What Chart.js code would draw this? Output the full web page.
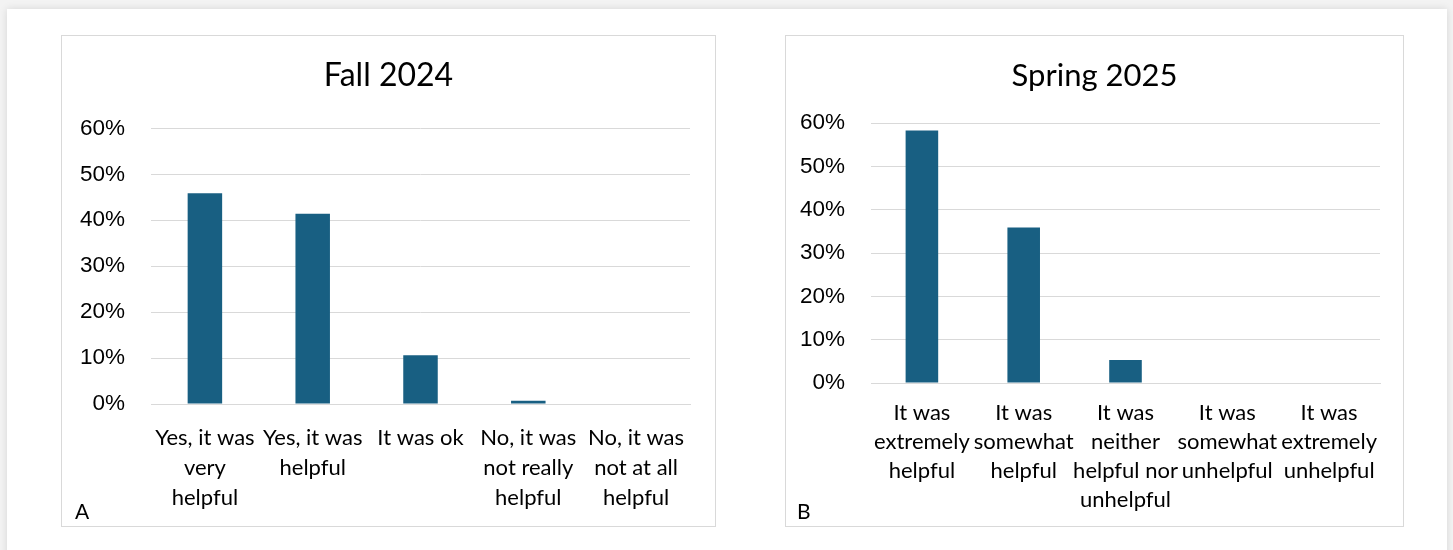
<!DOCTYPE html>
<html>
<head>
<meta charset="utf-8">
<script src="https://cdn.jsdelivr.net/npm/chart.js@4.4.1/dist/chart.umd.min.js"></script>
<style>
  html,body{margin:0;padding:0;}
  body{width:1453px;height:550px;background:#f3f3f3;position:relative;overflow:hidden;}
  #card{position:absolute;left:7px;top:9px;width:1440px;height:560px;background:#fff;box-shadow:0 0 8px rgba(0,0,0,0.12);}
  .panel{position:absolute;border:1px solid #d9d9d9;box-sizing:border-box;background:#fff;}
  .panel canvas{position:absolute;left:0;top:0;}
  .letter{position:absolute;font-family:"Lato","Liberation Sans",sans-serif;font-size:21px;color:#000;}
</style>
</head>
<body>
<div id="card"></div>
<div class="panel" id="pA" style="left:61px;top:35px;width:655px;height:492px;">
  <canvas id="cA"></canvas>
  <div class="letter" style="left:13px;top:462px;">A</div>
</div>
<div class="panel" id="pB" style="left:785px;top:35px;width:619px;height:492px;">
  <canvas id="cB"></canvas>
  <div class="letter" style="left:11px;top:462px;">B</div>
</div>
<script>
// ---- Data ----
const fallTitle = "Fall 2024";
const fallCategories = [
  ["Yes, it was", "very", "helpful"],
  ["Yes, it was", "helpful"],
  ["It was ok"],
  ["No, it was", "not really", "helpful"],
  ["No, it was", "not at all", "helpful"]
];
const fallValues = [0.459, 0.414, 0.106, 0.007, 0];

const springTitle = "Spring 2025";
const springCategories = [
  ["It was", "extremely", "helpful"],
  ["It was", "somewhat", "helpful"],
  ["It was", "neither", "helpful nor", "unhelpful"],
  ["It was", "somewhat", "unhelpful"],
  ["It was", "extremely", "unhelpful"]
];
const springValues = [0.583, 0.359, 0.053, 0, 0];

const yTicks = [0, 0.1, 0.2, 0.3, 0.4, 0.5, 0.6];

const barColor = "#185f82";
const gridColor = "#d9d9d9";

function makeChart(id, title, cats, vals, cfg) {
  const c = document.getElementById(id);
  const p = c.parentElement;
  c.width = p.clientWidth; c.height = p.clientHeight;
  return new Chart(c, {
    type: 'bar',
    data: {
      labels: cats,
      datasets: [{
        data: vals,
        yAxisID: 'y',
        backgroundColor: barColor,
        borderWidth: 0,
        categoryPercentage: 1,
        barPercentage: cfg.barPct
      }]
    },
    options: {
      responsive: false,
      animation: false,
      devicePixelRatio: 1,
      layout: { padding: 0 },
      plugins: {
        legend: { display: false },
        tooltip: { enabled: false },
        title: {
          display: true,
          text: title,
          color: '#000',
          font: { family: 'Lato, "Liberation Sans", sans-serif', size: cfg.titleSize, weight: 'normal' },
          padding: { top: cfg.titleTop, bottom: cfg.titleBottom }
        }
      },
      scales: {
        x: {
          grid: { display: false, drawTicks: false },
          border: { display: true, color: gridColor, width: 1 },
          ticks: {
            color: '#000',
            maxRotation: 0, minRotation: 0, autoSkip: false,
            padding: cfg.xPad,
            font: { family: 'Lato, "Liberation Sans", sans-serif', size: 22, lineHeight: cfg.lineH }
          },
          afterFit: s => { s.height = cfg.xHeight; }
        },
        y: {
          position: 'left',
          min: 0, max: 0.6,
          afterBuildTicks: s => { s.ticks = yTicks.map(v => ({ value: v })); },
          grid: { color: gridColor, lineWidth: 1, drawTicks: false },
          border: { display: false },
          ticks: {
            color: '#000',
            padding: 26,
            font: { family: '"Liberation Sans", Arial, sans-serif', size: 22.5 },
            callback: v => Math.round(v * 100) + '%'
          },
          afterFit: s => { s.width = cfg.yWidth; }
        },
        yRightSpace: {
          position: 'right',
          display: true,
          min: 0, max: 1,
          grid: { display: false, drawTicks: false },
          border: { display: false },
          ticks: { display: false },
          afterFit: s => { s.width = cfg.rightSpace; }
        }
      }
    }
  });
}

makeChart('cA', fallTitle, fallCategories, fallValues, {
  barPct: 0.32, titleTop: 20, titleBottom: 34, titleSize: 32, xPad: 19, lineH: 30/22,
  xHeight: 122, yWidth: 89, rightSpace: 25
});
makeChart('cB', springTitle, springCategories, springValues, {
  barPct: 0.32, titleTop: 21, titleBottom: 29, titleSize: 31, xPad: 15, lineH: 29/22,
  xHeight: 143, yWidth: 85, rightSpace: 23
});
</script>
</body>
</html>
